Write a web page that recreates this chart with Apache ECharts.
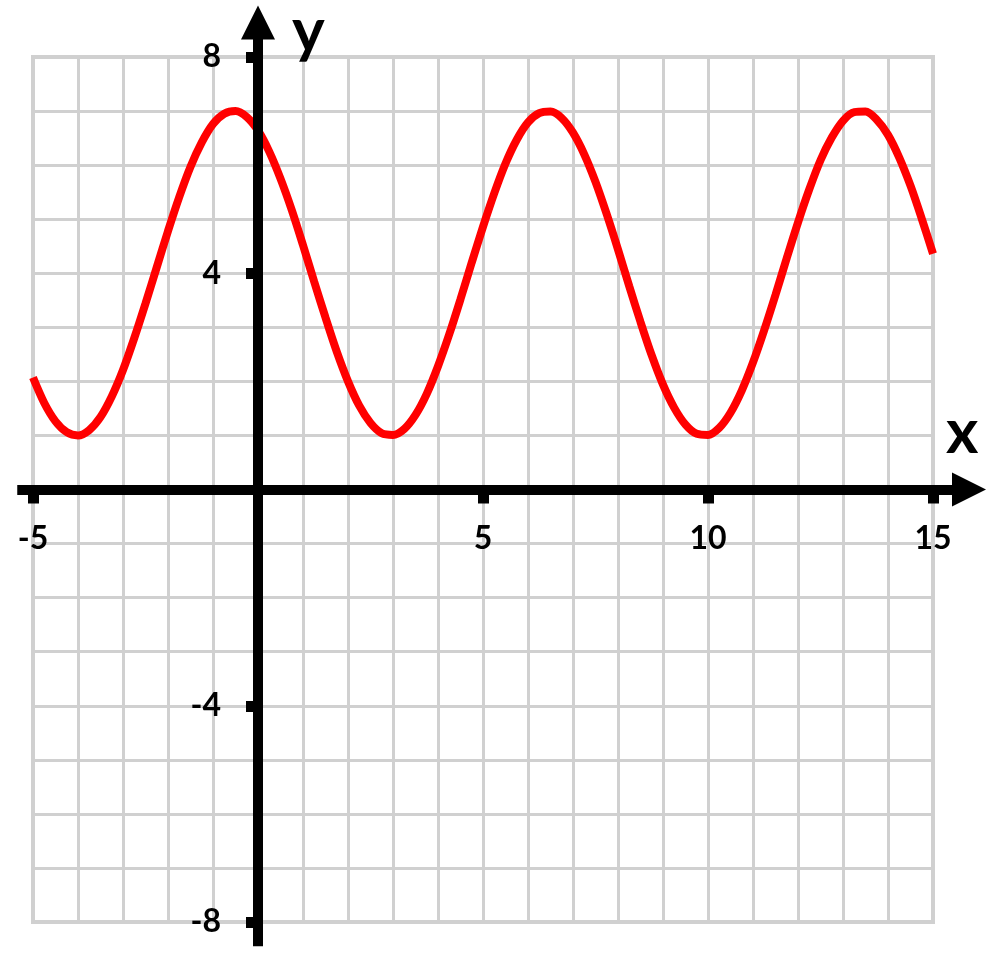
<!DOCTYPE html>
<html>
<head>
<meta charset="utf-8">
<script src="https://cdn.jsdelivr.net/npm/echarts@6/dist/echarts.min.js"></script>
<style>
html,body{margin:0;padding:0;background:#ffffff;}
#chart{width:1000px;height:954px;}
</style>
</head>
<body>
<div id="chart"></div>
<script>
// x positions sampled along the curve
const xValues = [-5,-4.75,-4.5,-4.25,-4,-3.75,-3.5,-3.25,-3,-2.75,-2.5,-2.25,-2,-1.75,-1.5,-1.25,-1,-0.75,-0.5,-0.25,
  0,0.25,0.5,0.75,1,1.25,1.5,1.75,2,2.25,2.5,2.75,3,3.25,3.5,3.75,4,4.25,4.5,4.75,
  5,5.25,5.5,5.75,6,6.25,6.5,6.75,7,7.25,7.5,7.75,8,8.25,8.5,8.75,9,9.25,9.5,9.75,
  10,10.25,10.5,10.75,11,11.25,11.5,11.75,12,12.25,12.5,12.75,13,13.25,13.5,13.75,14,14.25,14.5,14.75,15];
// y values
const yValues = [2.07,1.60,1.26,1.06,1.00,1.10,1.34,1.72,2.21,2.80,3.44,4.11,4.78,5.41,5.97,6.42,6.76,6.95,7.00,6.89,
  6.64,6.25,5.75,5.17,4.52,3.84,3.18,2.55,2.00,1.55,1.23,1.04,1.01,1.12,1.38,1.77,2.28,2.87,3.52,4.20,
  4.86,5.48,6.03,6.47,6.79,6.96,6.99,6.87,6.60,6.20,5.69,5.09,4.44,3.76,3.10,2.48,1.94,1.51,1.20,1.03,
  1.01,1.14,1.42,1.83,2.35,2.95,3.60,4.28,4.94,5.55,6.09,6.51,6.82,6.98,6.99,6.84,6.56,6.14,5.62,5.01,4.36];
// labelled ticks
const xTickLabels = [-5, 5, 10, 15];
const yTickLabels = [8, 4, -4, -8];
const xRange = [-5, 15];
const yRange = [-8, 8];

const curve = xValues.map((x, i) => [x, yValues[i]]);

// grid geometry
const W = 1000, H = 954;
const gA = {left: 33, right: 67, top: 57, bottom: 32};
const pxX = (W - gA.left - gA.right) / (xRange[1] - xRange[0]);
const pxY = (H - gA.top - gA.bottom) / (yRange[1] - yRange[0]);
const axXMin = -5.35, axXMax = 15.8, axYMin = -8.45, axYMax = 8.64;
const zeroX = gA.left + (0 - xRange[0]) * pxX;
const zeroY = gA.top + (yRange[1] - 0) * pxY;
const xAxisGrid = {
  left: gA.left - (xRange[0] - axXMin) * pxX,
  right: gA.right - (axXMax - xRange[1]) * pxX,
  top: 0,
  bottom: H - zeroY
};
const yAxisGrid = {
  left: zeroX,
  right: 0,
  top: gA.top - (axYMax - yRange[1]) * pxY,
  bottom: gA.bottom - (yRange[0] - axYMin) * pxY
};

const labelFont = {fontFamily: 'Lato', fontWeight: 'bold', fontSize: 32, color: '#000'};
const axisLineStyle = {color: '#000', width: 10, cap: 'butt'};

const chart = echarts.init(document.getElementById('chart'));
chart.setOption({
  animation: false,
  backgroundColor: '#ffffff',
  title: [
    {text: 'y', left: 292, top: 1, padding: 0,
     textStyle: {fontFamily: 'Lato', fontWeight: 'bold', fontSize: 62, color: '#000'}},
    {text: 'x', left: 946, top: 402, padding: 0,
     textStyle: {fontFamily: 'Lato', fontWeight: 'bold', fontSize: 62, color: '#000'}}
  ],
  grid: [
    Object.assign({outerBoundsMode: 'none', show: true, borderColor: '#d0d0d0', borderWidth: 4,
      backgroundColor: 'transparent'}, gA),
    Object.assign({outerBoundsMode: 'none', show: false}, xAxisGrid),
    Object.assign({outerBoundsMode: 'none', show: false}, yAxisGrid)
  ],
  xAxis: [
    {type: 'value', gridIndex: 0, min: xRange[0], max: xRange[1], interval: 1,
     axisLine: {show: false}, axisTick: {show: false}, axisLabel: {show: false},
     splitLine: {show: true, lineStyle: {color: '#d0d0d0', width: 3}}},
    {type: 'value', gridIndex: 1, position: 'bottom', min: axXMin, max: axXMax, z: 10,
     axisLine: {show: true, onZero: false, symbol: ['none', 'triangle'], symbolSize: [34, 34],
                lineStyle: axisLineStyle},
     axisTick: {show: true, customValues: xTickLabels, length: 14, lineStyle: {color: '#000', width: 11}},
     axisLabel: Object.assign({show: true, customValues: xTickLabels, margin: 33, hideOverlap: false}, labelFont),
     splitLine: {show: false}},
    {type: 'value', gridIndex: 2, show: false, min: 0, max: 1}
  ],
  yAxis: [
    {type: 'value', gridIndex: 0, min: yRange[0], max: yRange[1], interval: 1,
     axisLine: {show: false}, axisTick: {show: false}, axisLabel: {show: false},
     splitLine: {show: true, lineStyle: {color: '#d0d0d0', width: 3}}},
    {type: 'value', gridIndex: 1, show: false, min: 0, max: 1},
    {type: 'value', gridIndex: 2, position: 'left', min: axYMin, max: axYMax, z: 10,
     axisLine: {show: true, onZero: false, symbol: ['none', 'triangle'], symbolSize: [34, 34],
                lineStyle: axisLineStyle},
     axisTick: {show: true, customValues: yTickLabels, length: 12, lineStyle: {color: '#000', width: 11}},
     axisLabel: Object.assign({show: true, customValues: yTickLabels, margin: 37, hideOverlap: false}, labelFont),
     splitLine: {show: false}}
  ],
  series: [
    {type: 'line', xAxisIndex: 0, yAxisIndex: 0, data: curve, smooth: 0.3,
     showSymbol: false, symbol: 'none', z: 5,
     lineStyle: {color: '#ff0000', width: 8}}
  ]
});
</script>
</body>
</html>
